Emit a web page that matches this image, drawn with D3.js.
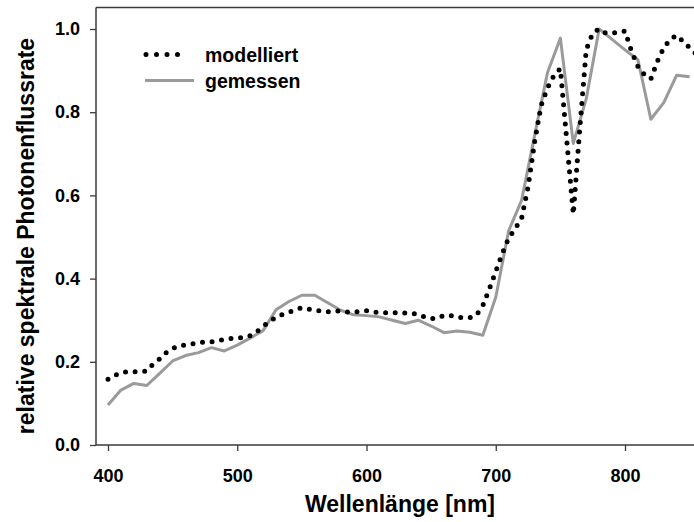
<!DOCTYPE html>
<html><head><meta charset="utf-8">
<script src="https://cdn.jsdelivr.net/npm/d3@7"></script>
<style>html,body{margin:0;padding:0;background:#fff;}svg{display:block;font-family:"Liberation Sans",Arial,sans-serif;}</style>
</head><body>
<svg id="c" width="694" height="522"></svg>
<script>
// Data
const measuredWl = [400,410,420,430,440,450,460,470,480,490,500,510,520,530,540,550,560,570,580,590,600,610,620,630,640,650,660,670,680,690,700,710,720,730,740,750,760,770,780,790,800,810,820,830,840,850];
const measuredVal = [0.096,0.132,0.148,0.143,0.172,0.202,0.215,0.222,0.234,0.226,0.240,0.257,0.275,0.325,0.345,0.360,0.360,0.342,0.324,0.313,0.311,0.308,0.300,0.292,0.300,0.286,0.270,0.274,0.271,0.264,0.355,0.515,0.588,0.743,0.895,0.978,0.725,0.832,1.000,0.975,0.950,0.926,0.783,0.823,0.889,0.885];
const modelWl = [400,405,410,415,420,425,430,435,440,445,450,455,460,465,470,475,480,485,490,495,500,505,510,515,520,525,530,535,540,545,550,555,560,565,570,575,580,585,590,595,600,605,610,615,620,625,630,635,640,645,650,655,660,665,670,675,680,685,690,695,700,705,710,715,720,725,730,735,740,745,750,755,760,765,770,775,780,785,790,795,800,805,810,815,820,825,830,835,840,845,850,855];
const modelVal = [0.158,0.167,0.174,0.176,0.176,0.176,0.178,0.195,0.207,0.222,0.232,0.238,0.241,0.243,0.246,0.248,0.248,0.251,0.254,0.256,0.257,0.259,0.263,0.272,0.285,0.297,0.307,0.314,0.319,0.325,0.330,0.327,0.324,0.322,0.320,0.322,0.322,0.320,0.320,0.321,0.323,0.320,0.318,0.318,0.318,0.318,0.317,0.317,0.314,0.308,0.304,0.305,0.312,0.311,0.308,0.305,0.306,0.312,0.335,0.375,0.417,0.460,0.497,0.520,0.545,0.620,0.727,0.815,0.858,0.888,0.905,0.730,0.555,0.760,0.950,0.990,1.000,0.990,0.990,0.992,0.995,0.947,0.910,0.890,0.880,0.922,0.955,0.975,0.985,0.970,0.955,0.940];
const xTicks = [400,500,600,700,800];
const yTicks = [0,0.2,0.4,0.6,0.8,1.0];
const seriesNames = ["modelliert","gemessen"];
const xTitle = "Wellenlänge [nm]";
const yTitle = "relative spektrale Photonenflussrate";

const svg = d3.select("#c");
const x = d3.scaleLinear().domain([400,800]).range([108,625]);
const y = d3.scaleLinear().domain([0,1]).range([445,29]);
const x0 = 96, yTop = 7.5, yBot = 445, xRight = 720;
const axisCol = "#3a3a3a";

// frame top line
svg.append("line").attr("x1",x0).attr("x2",xRight).attr("y1",yTop).attr("y2",yTop)
  .attr("stroke",axisCol).attr("stroke-width",1.5);

// clip
svg.append("clipPath").attr("id","clip").append("rect")
  .attr("x",x0).attr("y",yTop).attr("width",xRight-x0).attr("height",yBot-yTop);

// axes
const xAxis = d3.axisBottom(x).tickValues(xTicks).tickSize(6).tickPadding(18).tickFormat(d3.format("d"));
const gx = svg.append("g").attr("transform",`translate(0,${yBot})`).call(xAxis);
gx.select(".domain").attr("d",`M${x0},0H${xRight}`);
const yAxis = d3.axisLeft(y).tickValues(yTicks).tickSize(6).tickPadding(10).tickFormat(d3.format(".1f"));
const gy = svg.append("g").attr("transform",`translate(${x0},0)`).call(yAxis);
gy.select(".domain").attr("d",`M0,${yTop}V${yBot}`);
[gx,gy].forEach(g=>{
  g.selectAll(".domain").attr("stroke",axisCol).attr("stroke-width",1.5);
  g.selectAll(".tick line").attr("stroke",axisCol).attr("stroke-width",1.3);
  g.selectAll(".tick text").attr("fill","#000").style("font-size","18px").style("font-weight","bold")
   .style("font-family","'Liberation Sans',Arial,sans-serif");
});

const plot = svg.append("g").attr("clip-path","url(#clip)");
const line = d3.line().x(d=>x(d[0])).y(d=>y(d[1]));
const meas = measuredWl.map((w,i)=>[w,measuredVal[i]]);
const mod = modelWl.map((w,i)=>[w,modelVal[i]]);
plot.append("path").datum(meas).attr("d",line).attr("fill","none")
  .attr("stroke","#9a9a9a").attr("stroke-width",3).attr("stroke-linejoin","round");
plot.append("path").datum(mod).attr("d",line).attr("fill","none")
  .attr("stroke","#000").attr("stroke-width",5).attr("stroke-linecap","round")
  .attr("stroke-dasharray","0 9.6");

// legend
const lg = svg.append("g");
lg.append("line").attr("x1",146).attr("x2",188).attr("y1",54.5).attr("y2",54.5)
  .attr("stroke","#000").attr("stroke-width",5).attr("stroke-linecap","round").attr("stroke-dasharray","0 10.5");
lg.append("line").attr("x1",145).attr("x2",194).attr("y1",80.5).attr("y2",80.5)
  .attr("stroke","#9a9a9a").attr("stroke-width",3);
lg.selectAll("text.leg").data(seriesNames).enter().append("text").attr("class","leg")
  .attr("x",205).attr("y",(d,i)=>62+i*25.5).text(d=>d)
  .style("font-size","19.5px").style("font-weight","bold");

// titles
svg.append("text").attr("x",400).attr("y",512).attr("text-anchor","middle")
  .style("font-size","23px").style("font-weight","bold").text(xTitle);
svg.append("text").attr("transform","translate(33.5,236) rotate(-90)").attr("text-anchor","middle")
  .style("font-size","23px").style("font-weight","bold").text(yTitle);
</script>
</body></html>
